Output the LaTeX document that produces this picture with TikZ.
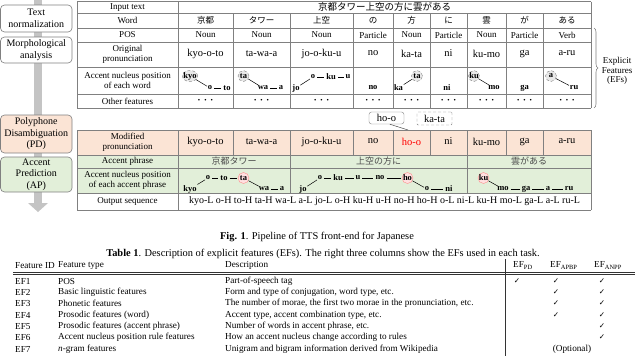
\documentclass[tikz,border=0pt]{standalone}
\usepackage{fontspec}
\setmainfont{Liberation Serif}
\newfontfamily\jpfont{Noto Sans CJK JP}
\newfontfamily\symfont{DejaVu Sans}
\usetikzlibrary{shapes.geometric,decorations.pathreplacing}
\definecolor{peach}{HTML}{FBE4D5}
\definecolor{lgreen}{HTML}{E2EFD9}
\definecolor{gridc}{HTML}{808080}
\definecolor{barc}{HTML}{C4C4C4}
\begin{document}
\begin{tikzpicture}[x=1pt,y=-1pt,
  lbl/.style={font=\fontsize{9}{9.8}\selectfont, align=center, inner sep=0},
  pron/.style={font=\fontsize{10.5}{11}\selectfont, inner sep=0},
  jpw/.style={font=\jpfont\fontsize{8.5}{9}\selectfont, inner sep=0},
  jpp/.style={font=\jpfont\fontsize{9}{9}\selectfont, inner sep=0, text=black!70},
  dots/.style={font=\bfseries\fontsize{10}{10}\selectfont, inner sep=0},
  acc/.style={font=\bfseries\fontsize{8.5}{9}\selectfont, inner sep=0.6pt},
  gcirc/.style={acc, ellipse, draw=gray, densely dashed, fill=gray!18, inner xsep=-1.2pt, inner ysep=0pt, minimum width=11, minimum height=11},
  rcirc/.style={acc, ellipse, draw=red!45, fill=red!12, inner xsep=-1.2pt, inner ysep=0pt, minimum width=11, minimum height=11},
  gridl/.style={draw=gridc, line width=0.5},
  accl/.style={line width=0.5},
  dashl/.style={line width=0.7, shorten <=1.3pt, shorten >=1.3pt},
  pbox/.style={rounded corners=4, draw=gray, line width=0.6, align=center, font=\fontsize{10}{11.5}\selectfont, minimum width=71.5, inner sep=0},
  captxt/.style={font=\fontsize{10.4}{11}\selectfont, inner sep=0},
  tb/.style={font=\fontsize{9.2}{10}\selectfont, inner sep=0, anchor=west},
  chk/.style={font=\symfont\fontsize{7.5}{8}\selectfont, inner sep=0}]
\useasboundingbox (0,0) rectangle (640,356);

% ---------- pipeline ----------
\fill[barc] (34,-2) rectangle (42,203);
\fill[barc] (28,203) -- (48,203) -- (38,212) -- cycle;
\node[pbox, fill=white, minimum height=27] (tn) at (36.25,18.5) {Text\\normalization};
\node[pbox, fill=white, minimum height=26] (ma) at (36.25,50) {Morphological\\analysis};
\node[pbox, fill=peach, minimum height=38] (pd) at (36.25,134) {Polyphone\\Disambiguation\\(PD)};
\node[pbox, fill=lgreen, minimum height=35] (ap) at (36.25,174.5) {Accent\\Prediction\\(AP)};

% ---------- top table ----------
\foreach \y in {1.5,13,28,42,67,94,108} \draw[gridl] (77,\y) -- (591,\y);
\foreach \x in {77,178,591} \draw[gridl] (\x,1.5) -- (\x,108);
\foreach \x in {233,290,353,393,430,467,506,543} \draw[gridl] (\x,13) -- (\x,108);

\node[lbl] (lin) at (127.5,7.25) {Input text};
\node[lbl] (lword) at (127.5,20.5) {Word};
\node[lbl] (lpos) at (127.5,35) {POS};
\node[lbl] (lorig) at (127.5,54.5) {Original\\pronunciation};
\node[lbl] (lacc) at (127.5,80.5) {Accent nucleus position\\of each word};
\node[lbl] (loth) at (127.5,101) {Other features};
\node[font=\jpfont\fontsize{9.5}{10}\selectfont, inner sep=0] (intext) at (384.5,7.25) {京都タワー上空の方に雲がある};

\foreach [count=\i] \cx/\w/\p/\o in {205.5/京都/Noun/kyo-o-to, 261.5/タワー/Noun/ta-wa-a, 321.5/上空/Noun/jo-o-ku-u, 373/の/Particle/no, 411.5/方/Noun/ka-ta, 448.5/に/Particle/ni, 486.5/雲/Noun/ku-mo, 524.5/が/Particle/ga, 567/ある/Verb/a-ru}{
  \node[jpw] (w\i) at (\cx,20.5) {\w};
  \node[lbl] (p\i) at (\cx,35) {\p};
  \node[pron] (o\i) at (\cx,53.5) {\o};
  \node[dots] (d\i) at (\cx,101) {·\hspace{3pt}·\hspace{3pt}·};
}

% accent nucleus of each word
\node[gcirc] (k1) at (190,76) {kyo};
\node[acc] (k1o) at (210,88) {o};
\node[acc] (k1t) at (227,88) {to};
\draw[accl] (k1) -- (k1o); \draw[dashl] (k1o) -- (k1t);
\node[gcirc] (t2) at (243.5,76) {ta};
\node[acc] (t2w) at (263,88) {wa};
\node[acc] (t2a) at (281,88) {a};
\draw[accl] (t2) -- (t2w); \draw[dashl] (t2w) -- (t2a);
\node[acc] (j3) at (296,88) {jo};
\node[acc] (j3o) at (313,77) {o};
\node[acc] (j3k) at (331,77) {ku};
\node[acc] (j3u) at (348,77) {u};
\draw[accl] (j3) -- (j3o); \draw[dashl] (j3o) -- (j3k); \draw[dashl] (j3k) -- (j3u);
\node[acc] (n4) at (373,88) {no};
\node[acc] (k5) at (398.5,88) {ka};
\node[gcirc] (k5t) at (417,76) {ta};
\draw[accl] (k5) -- (k5t);
\node[acc] (n6) at (447,88) {ni};
\node[gcirc] (k7) at (474,76) {ku};
\node[acc] (k7m) at (494,88) {mo};
\draw[accl] (k7) -- (k7m);
\node[acc] (g8) at (524.5,88) {ga};
\node[gcirc] (a9) at (551,76) {a};
\node[acc] (a9r) at (574,88) {ru};
\draw[accl] (a9) -- (a9r);

% brace
\draw[decorate, decoration={brace, amplitude=4pt}, draw=gray, line width=0.6] (594,28) -- (594,108);
\node[font=\fontsize{9}{9.5}\selectfont, align=center, inner sep=0] (efs) at (617,71) {Explicit\\Features\\(EFs)};

% ho-o / ka-ta boxes
\node[pron, draw=gray, rounded corners=2.5, minimum width=35, minimum height=12] (hoobox) at (386.5,118) {ho-o};
\node[pron, draw=gray, densely dashed, rounded corners=1, minimum width=35, minimum height=13] (katabox) at (434.5,118.5) {ka-ta};
\coordinate (hoocell) at (408,130);
\draw[draw=black!70, line width=0.5] (hoobox.-62) -- (hoocell);

% ---------- second table ----------
\fill[peach] (77,130) rectangle (591,155);
\fill[lgreen] (77,155) rectangle (591,193);
\foreach \y in {130,155,168,193,210} \draw[gridl] (77,\y) -- (591,\y);
\foreach \x in {77,178,591} \draw[gridl] (\x,130) -- (\x,210);
\foreach \x in {233,290,353,393,430,467,506,543} \draw[gridl] (\x,130) -- (\x,155);
\foreach \x in {290,467} \draw[gridl] (\x,155) -- (\x,193);

\node[lbl] (lmod) at (127.5,142.5) {Modified\\pronunciation};
\node[lbl] (lap) at (127.5,161.5) {Accent phrase};
\node[lbl] (lacc2) at (127.5,180.5) {Accent nucleus position\\of each accent phrase};
\node[lbl] (lout) at (127.5,201.5) {Output sequence};

\foreach [count=\i] \cx/\m in {205.5/kyo-o-to, 261.5/ta-wa-a, 321.5/jo-o-ku-u, 373/no, 448.5/ni, 486.5/ku-mo, 524.5/ga, 567/a-ru}{
  \node[pron] (m\i) at (\cx,141.5) {\m};
}
\node[pron, text=red] (mhoo) at (411.5,141.5) {ho-o};

\node[jpp] (ap1) at (234,161.5) {京都タワー};
\node[jpp] (ap2) at (378.5,161.5) {上空の方に};
\node[jpp] (ap3) at (529,161.5) {雲がある};

% accent nucleus of each accent phrase
\node[acc] (K1) at (190,189) {kyo};
\node[acc] (K1o) at (208,178) {o};
\node[acc] (K1t) at (224,178) {to};
\node[rcirc] (K1ta) at (243.5,178) {ta};
\node[acc] (K1w) at (264,189) {wa};
\node[acc] (K1a) at (282,189) {a};
\draw[accl] (K1) -- (K1o); \draw[dashl] (K1o) -- (K1t); \draw[dashl] (K1t) -- (K1ta);
\draw[accl] (K1ta) -- (K1w); \draw[dashl] (K1w) -- (K1a);

\node[acc] (J2) at (303,189) {jo};
\node[acc] (J2o) at (320,178) {o};
\node[acc] (J2k) at (338,178) {ku};
\node[acc] (J2u) at (358,178) {u};
\node[acc] (J2n) at (380,178) {no};
\node[rcirc] (J2h) at (407.5,178) {ho};
\node[acc] (J2o2) at (427,189) {o};
\node[acc] (J2ni) at (449,189) {ni};
\draw[accl] (J2) -- (J2o); \draw[dashl] (J2o) -- (J2k); \draw[dashl] (J2k) -- (J2u);
\draw[dashl] (J2u) -- (J2n); \draw[dashl] (J2n) -- (J2h);
\draw[accl] (J2h) -- (J2o2); \draw[dashl] (J2o2) -- (J2ni);

\node[rcirc] (C3) at (483.5,178) {ku};
\node[acc] (C3m) at (503,189) {mo};
\node[acc] (C3g) at (526,189) {ga};
\node[acc] (C3a) at (548,189) {a};
\node[acc] (C3r) at (569,189) {ru};
\draw[accl] (C3) -- (C3m); \draw[dashl] (C3m) -- (C3g); \draw[dashl] (C3g) -- (C3a); \draw[dashl] (C3a) -- (C3r);

\node[font=\fontsize{10}{10}\selectfont, inner sep=0] (outseq) at (384.5,201.5) {kyo-L o-H to-H ta-H wa-L a-L jo-L o-H ku-H u-H no-H ho-H o-L ni-L ku-H mo-L ga-L a-L ru-L};

% ---------- captions ----------
\node[captxt] (figcap) at (317,237) {\textbf{Fig. 1}. Pipeline of TTS front-end for Japanese};
\node[captxt] (tabcap) at (323,254) {\textbf{Table 1}. Description of explicit features (EFs). The right three columns show the EFs used in each task.};

% ---------- bottom table ----------
\draw[draw=black!80, line width=0.5] (13,272) -- (635,272);
\draw[draw=black!80, line width=0.5] (13,274.3) -- (635,274.3);
\draw[draw=black!80, line width=0.5] (505,259) -- (505,356);

\node[tb] (hid) at (15,265.5) {Feature ID};
\node[tb] (htype) at (58,265.5) {Feature type};
\node[tb] (hdesc) at (225,265.5) {Description};
\node[tb] (hpd) at (513,265.5) {EF\textsubscript{PD}};
\node[tb] (hapbp) at (550,265.5) {EF\textsubscript{APBP}};
\node[tb] (hanpp) at (594,265.5) {EF\textsubscript{ANPP}};

\node[tb] (id1) at (15,281) {EF1};
\node[tb] (ty1) at (58,281) {POS};
\node[tb] (de1) at (225,281) {Part-of-speech tag};
\node[tb] (id2) at (15,292.3) {EF2};
\node[tb] (ty2) at (58,292.3) {Basic linguistic features};
\node[tb] (de2) at (225,292.3) {Form and type of conjugation, word type, etc.};
\node[tb] (id3) at (15,303.6) {EF3};
\node[tb] (ty3) at (58,303.6) {Phonetic features};
\node[tb] (de3) at (225,303.6) {The number of morae, the first two morae in the pronunciation, etc.};
\node[tb] (id4) at (15,315) {EF4};
\node[tb] (ty4) at (58,315) {Prosodic features (word)};
\node[tb] (de4) at (225,315) {Accent type, accent combination type, etc.};
\node[tb] (id5) at (15,326.3) {EF5};
\node[tb] (ty5) at (58,326.3) {Prosodic features (accent phrase)};
\node[tb] (de5) at (225,326.3) {Number of words in accent phrase, etc.};
\node[tb] (id6) at (15,337.6) {EF6};
\node[tb] (ty6) at (58,337.6) {Accent nucleus position rule features};
\node[tb] (de6) at (225,337.6) {How an accent nucleus change according to rules};
\node[tb] (id7) at (15,349) {EF7};
\node[tb] (ty7) at (58,349) {\textit{n}-gram features};
\node[tb] (de7) at (225,349) {Unigram and bigram information derived from Wikipedia};

\node[chk] (c1a) at (517,281) {✓};
\node[chk] (c1b) at (556,281) {✓};
\node[chk] (c1c) at (602,281) {✓};
\foreach \r/\y in {2/292.3,3/303.6,4/315}{
  \node[chk] (c\r b) at (556,\y) {✓};
  \node[chk] (c\r c) at (602,\y) {✓};
}
\node[chk] (c5c) at (602,326.3) {✓};
\node[chk] (c6c) at (602,337.6) {✓};
\node[font=\fontsize{9.2}{10}\selectfont, inner sep=0] (opt) at (572,349) {(Optional)};
\end{tikzpicture}
\end{document}
